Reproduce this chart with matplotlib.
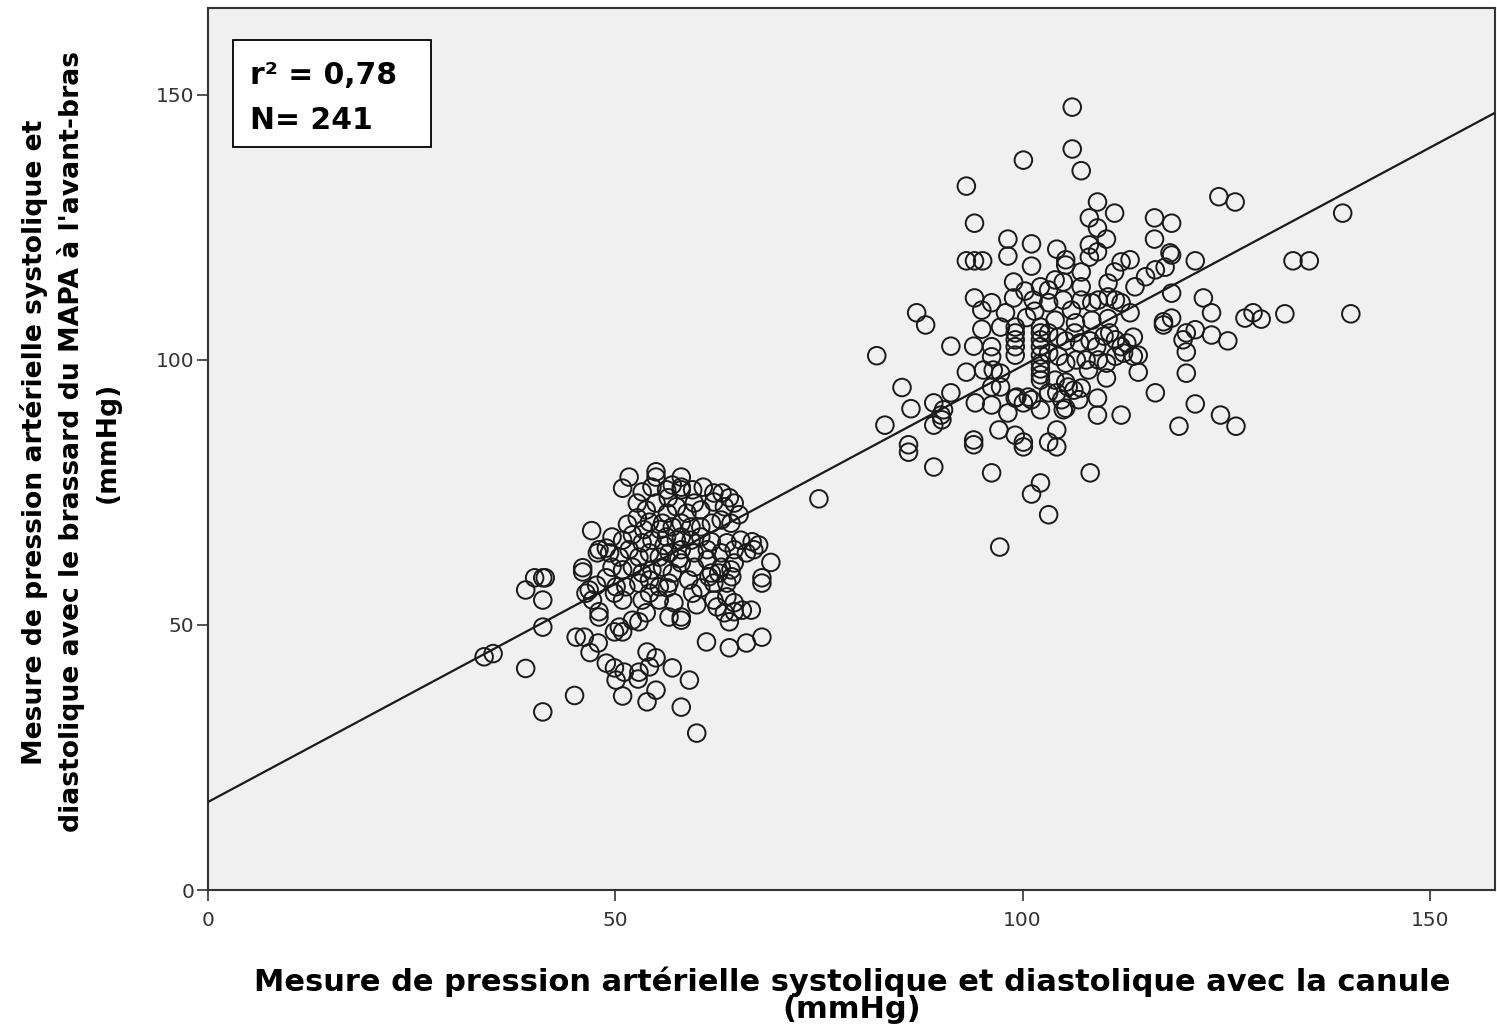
import matplotlib
matplotlib.use("Agg")
import matplotlib.pyplot as plt
from matplotlib.patches import Rectangle

# ---------------- data ----------------
lower_cluster = [
    (33.9,44.0),(35.0,44.6),(39.0,41.8),(39.0,56.6),(40.1,58.9),(41.1,58.9),(41.4,58.9),(41.1,54.7),(41.1,49.6),(41.1,33.6),
    (45.0,36.7),(45.2,47.7),(46.2,47.7),(46.0,60.8),(46.0,60.0),(46.9,44.8),(47.1,67.8),(47.9,46.6),(48.0,52.5),(48.0,51.5),
    (48.9,42.8),(49.9,41.9),(50.1,39.6),(50.9,36.6),(49.9,48.7),(50.9,48.7),(52.8,39.8),(52.9,41.1),(53.9,44.9),(55.0,43.8),
    (54.2,42.1),(55.0,37.7),(53.9,35.5),(51.1,41.1),(57.0,41.9),(58.1,34.5),(59.1,39.6),(60.0,29.6),(61.2,46.8),(64.0,45.7),
    (66.1,46.6),(68.0,47.7),(69.1,61.8),(68.0,58.9),(68.0,57.9),(75.0,73.8),(66.7,52.8),(65.6,52.8),(64.6,52.5),(64.0,50.6),
    (60.0,53.8),(62.1,54.7),(58.1,50.9),(52.9,50.6),
    (47.8,63.6),(48.9,64.5),(46.8,56.6),(47.7,57.5),(48.9,58.9),(49.9,56.0),(50.9,75.8),(51.7,77.9),(55.0,78.9),(55.0,77.9),
    (58.1,77.9),(58.1,75.5),(62.1,74.9),(63.1,74.9),(64.0,74.0),(65.2,70.8),(66.8,65.7),(67.6,65.1),(56.4,57.0),(57.2,54.2),
    (62.7,59.8),(64.3,59.1),(61.5,59.1),
    (53.3,75.1),(54.5,76.0),(56.3,75.5),(57.0,76.4),(52.7,73.0),(53.8,71.7),(55.0,73.0),(56.4,71.1),(57.5,72.3),(52.7,70.2),
    (54.2,69.4),(55.8,69.2),(49.6,66.6),(50.9,66.0),(52.1,67.0),(53.3,65.5),(54.5,66.0),(56.3,66.6),(57.5,66.0),(48.0,64.2),
    (49.3,63.6),(50.5,62.8),(51.7,64.2),(52.9,62.8),(54.2,63.6),(55.4,62.8),(56.6,63.6),(49.6,60.9),(50.9,60.4),(52.1,60.9),
    (53.3,59.8),(54.5,60.4),(55.8,60.9),(57.0,59.8),(50.1,57.2),(51.3,57.2),(52.9,57.9),(54.2,58.5),(55.4,57.2),(56.6,57.9),
    (46.4,56.0),(47.2,54.7),(50.9,54.7),(53.3,54.7),(54.2,56.0),(55.4,54.7),(52.1,50.9),(53.8,52.3),(56.6,51.5),(50.5,49.6),
    (58.1,76.0),(62.1,73.2),(63.4,72.3),(64.6,73.0),(59.7,73.0),(60.5,71.7),(58.8,71.1),(58.1,69.2),(59.3,68.5),(60.5,68.5),
    (61.8,69.2),(63.0,69.8),(64.2,69.2),(58.1,66.6),(59.3,66.0),(60.5,66.6),(61.8,65.7),(63.7,65.5),(65.4,66.0),(58.1,64.2),
    (59.7,63.6),(61.3,64.2),(63.0,63.6),(64.6,64.2),(66.1,63.6),(67.0,64.2),(58.1,61.7),(59.7,60.9),(61.3,62.3),(63.0,60.9),
    (64.6,61.7),(61.8,59.8),(64.2,60.4),(62.1,57.9),(63.7,57.9),(62.5,53.4),(63.7,55.3),(64.6,54.2),(63.4,52.3),(58.1,51.5),
    (55.5,68.0),(57.0,68.5),(56.0,65.0),(57.8,62.5),(59.0,58.5),(60.5,57.0),(59.5,56.0),(53.5,68.0),(51.5,69.0),(56.5,74.0),
    (59.5,75.5),(60.8,76.0),
]

upper_cluster = [
    (106.1,147.7),(106.1,139.8),(107.2,135.7),(100.1,137.7),(93.1,132.8),(94.1,125.8),(93.1,118.7),(94.1,118.7),(95.1,118.7),
    (98.2,122.8),(98.2,119.6),(87.0,108.9),(88.1,106.6),(82.1,100.8),(85.2,94.8),(83.1,87.7),(86.0,84.0),(86.0,82.6),(89.1,79.8),
    (86.3,90.8),(89.1,91.9),(90.3,90.6),(91.2,93.8),(89.1,87.7),(90.1,88.7),(94.2,91.9),(96.2,91.5),(94.0,84.9),(94.0,84.0),
    (97.1,86.8),(96.2,78.7),(98.2,90.0),(97.2,64.7),(97.3,94.9),
    (101.1,74.7),(102.2,76.8),(103.2,70.8),(108.3,78.7),(104.2,83.6),(103.2,84.5),(104.2,86.8),(100.1,83.6),(100.1,84.5),
    (99.1,85.8),(99.1,92.8),(100.1,91.9),(101.1,92.5),(102.2,90.6),(105.3,95.8),(104.2,93.8),(105.3,90.9),(106.3,94.3),
    (107.2,94.7),(102.2,97.2),(102.2,96.2),(109.2,89.6),(112.1,89.6),(109.2,92.8),(110.3,96.6),(114.2,97.7),(114.2,100.9),
    (116.3,93.8),(117.3,107.2),
    (124.1,130.8),(126.1,129.8),(139.3,127.7),(133.2,118.7),(135.2,118.7),(121.2,118.7),(118.3,125.8),(118.3,119.8),
    (117.5,117.5),(118.3,112.6),(122.2,111.7),(123.2,108.9),(127.3,107.9),(128.3,108.9),(129.3,107.7),(132.2,108.7),
    (140.3,108.7),(118.3,107.9),(120.1,105.1),(121.2,105.7),(123.2,104.7),(125.2,103.6),(120.1,101.5),(120.1,97.5),
    (121.2,91.7),(124.3,89.6),(126.2,87.5),(119.2,87.5),
    (94.1,111.7),(96.2,110.8),(97.9,108.9),(95.0,109.4),(95.0,105.8),(91.2,102.6),(94.0,102.6),(93.1,97.7),(98.9,114.7),
    (98.9,111.7),
    (109.2,129.8),(111.3,127.7),(108.2,126.8),(109.2,124.9),(110.3,122.8),(108.2,121.7),(109.2,120.4),(108.2,119.4),
    (116.2,126.8),(116.2,122.8),(101.1,121.9),(101.1,117.7),(104.2,120.9),(105.3,118.9),(105.3,117.9),(107.2,116.6),
    (111.3,116.6),(112.1,118.5),(113.2,118.9),(102.2,113.8),(104.0,115.1),(105.0,114.7),(115.1,115.7),(116.3,117.0),
    (113.8,113.8),(107.2,113.8),(110.5,114.5),(118.1,120.2),
    (99.1,106.2),(99.1,105.1),(99.1,103.8),(99.1,102.5),(99.1,100.9),(102.2,106.2),(102.2,105.1),(102.2,103.8),(102.2,102.5),
    (102.2,100.9),(102.2,99.4),(102.2,98.3),(96.2,102.5),(96.2,100.6),(95.2,98.1),(96.4,98.1),(97.3,97.5),(90.0,89.6),
    (99.3,93.0),(100.7,93.0),(103.2,93.8),(96.2,94.9),(97.3,106.2),(101.3,111.3),
    (103.2,113.2),(103.2,110.8),(105.0,111.3),(106.0,109.4),(107.2,111.3),(108.5,110.8),(109.3,111.3),(110.5,111.9),
    (111.4,111.3),(112.1,110.8),(113.2,108.9),(117.3,106.6),(119.7,103.8),(103.2,105.1),(104.4,104.3),(105.3,103.6),
    (106.4,105.1),(107.0,103.2),(108.3,103.6),(109.1,102.5),(110.0,104.5),(110.7,105.1),(111.4,103.8),(112.1,102.5),
    (112.8,103.2),(113.6,104.3),(103.2,101.3),(104.4,100.7),(105.3,99.4),(106.6,100.0),(107.8,100.0),(109.3,100.0),
    (110.3,99.4),(111.4,100.7),(112.4,101.3),(113.6,100.7),(108.1,98.1),(104.0,96.2),(105.6,94.9),(104.8,92.5),(106.9,92.5),
    (105.0,90.6),
    (100.5,108.0),(101.5,109.2),(104.0,107.5),(106.5,107.0),(108.5,107.5),(110.5,107.8),(100.3,113.0),
]

# fitted line (intercept, slope) as drawn in the reference
fit_intercept = 16.6
fit_slope = 0.823

x_ticks = [0, 50, 100, 150]
y_ticks = [0, 50, 100, 150]
x_limits = (0, 158)
y_limits = (0, 166.4)

stats_lines = ["r² = 0,78", "N= 241"]
x_label = "Mesure de pression artérielle systolique et diastolique avec la canule\n(mmHg)"
y_label = ("Mesure de pression artérielle systolique et\n"
           "diastolique avec le brassard du MAPA à l'avant-bras\n(mmHg)")

plt.rcParams["font.family"] = ["DejaVu Sans"]

# ---------------- figure ----------------
fig = plt.figure(figsize=(14.97, 10.28), dpi=100)
fig.patch.set_facecolor("white")
ax = fig.add_axes([208/1497, 138/1028, (1495-208)/1497, (890-8)/1028])
ax.set_facecolor("#f0f0f0")

pts = lower_cluster + upper_cluster
xs = [p[0] for p in pts]
ys = [p[1] for p in pts]
ax.scatter(xs, ys, s=160, facecolors="none", edgecolors="#1a1a1a", linewidths=1.4, zorder=3)

lx = list(x_limits)
ax.plot(lx, [fit_intercept + fit_slope * v for v in lx], color="#1a1a1a", lw=1.6, zorder=4)

ax.set_xlim(*x_limits)
ax.set_ylim(*y_limits)
ax.set_xticks(x_ticks)
ax.set_yticks(y_ticks)
ax.tick_params(direction="out", length=8, width=1.2, color="#333333",
               labelsize=14.5, labelcolor="#333333")
ax.tick_params(axis="y", pad=2)
ax.tick_params(axis="x", pad=7)
for sp in ax.spines.values():
    sp.set_color("#333333")
    sp.set_linewidth(1.5)

# stats box
ax.add_patch(Rectangle((0.0194, 0.8424), 0.1539, 0.1213, transform=ax.transAxes,
                       facecolor="white", edgecolor="black", lw=1.3, zorder=5))
ax.text(0.0326, 0.924, stats_lines[0], transform=ax.transAxes, fontsize=21.5,
        fontweight="bold", va="center", ha="left", zorder=6)
ax.text(0.0326, 0.873, stats_lines[1], transform=ax.transAxes, fontsize=21.5,
        fontweight="bold", va="center", ha="left", zorder=6)

fig.text(852/1497, 1-995/1028, x_label, ha="center", va="center", multialignment="center",
         fontsize=22, fontweight="bold", linespacing=0.93)
fig.text(70/1497, 1-442/1028, y_label, ha="center", va="center", multialignment="center",
         rotation=90, fontsize=19.2, fontweight="bold", linespacing=1.45)

fig.savefig("out.png", dpi=100)
